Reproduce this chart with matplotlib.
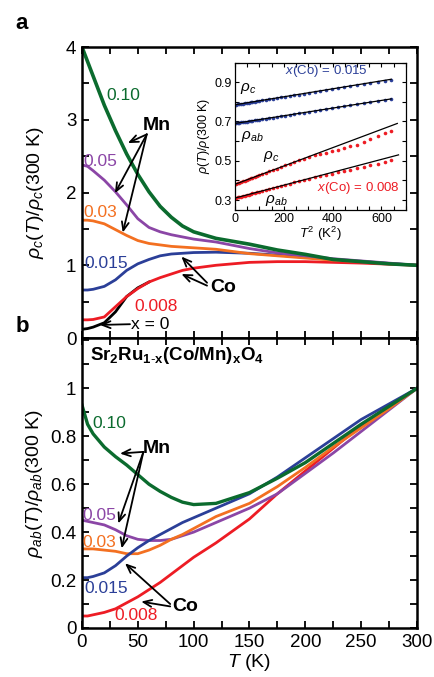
import matplotlib
matplotlib.use("Agg")
import matplotlib.pyplot as plt
from matplotlib.ticker import MultipleLocator, FixedLocator, FormatStrFormatter

plt.rcParams["font.family"] = ["Liberation Sans", "DejaVu Sans"]
plt.rcParams["mathtext.fontset"] = "custom"
plt.rcParams["mathtext.rm"] = "Liberation Sans"
plt.rcParams["mathtext.it"] = "Liberation Sans:italic"
plt.rcParams["mathtext.bf"] = "Liberation Sans:bold"

# ---- data: panel a, rho_c(T)/rho_c(300 K) ----
T = [0, 5, 10, 20, 30, 40, 50, 60, 70, 80, 90, 100, 120, 150, 175, 200, 225, 250, 275, 300]
rc_mn010 = [4.00, 3.80, 3.60, 3.20, 2.85, 2.53, 2.25, 2.01, 1.81, 1.66, 1.54, 1.46, 1.37, 1.29, 1.21, 1.15, 1.08, 1.05, 1.02, 1.00]
rc_mn005 = [2.38, 2.36, 2.30, 2.17, 2.01, 1.83, 1.64, 1.52, 1.46, 1.42, 1.39, 1.36, 1.32, 1.23, 1.17, 1.13, 1.09, 1.06, 1.03, 1.00]
rc_mn003 = [1.62, 1.62, 1.61, 1.57, 1.49, 1.41, 1.34, 1.30, 1.28, 1.26, 1.25, 1.24, 1.22, 1.16, 1.13, 1.10, 1.07, 1.05, 1.02, 1.00]
rc_co015 = [0.66, 0.66, 0.67, 0.71, 0.80, 0.93, 1.02, 1.08, 1.13, 1.155, 1.165, 1.175, 1.18, 1.165, 1.14, 1.11, 1.08, 1.05, 1.025, 1.00]
rc_co008 = [0.25, 0.25, 0.255, 0.29, 0.43, 0.57, 0.68, 0.77, 0.83, 0.88, 0.93, 0.96, 1.00, 1.04, 1.05, 1.05, 1.04, 1.03, 1.015, 1.00]
T_pure = [0, 5, 10, 20, 30, 40, 50, 60]
rc_pure = [0.12, 0.13, 0.15, 0.21, 0.36, 0.57, 0.69, 0.77]

# ---- data: panel b, rho_ab(T)/rho_ab(300 K) ----
rab_mn010 = [0.93, 0.85, 0.81, 0.755, 0.715, 0.68, 0.64, 0.60, 0.57, 0.545, 0.525, 0.515, 0.52, 0.565, 0.625, 0.69, 0.77, 0.85, 0.925, 1.00]
rab_mn005 = [0.45, 0.445, 0.44, 0.43, 0.41, 0.385, 0.37, 0.365, 0.365, 0.37, 0.385, 0.40, 0.44, 0.50, 0.56, 0.645, 0.73, 0.82, 0.91, 1.00]
rab_mn003 = [0.33, 0.33, 0.33, 0.325, 0.32, 0.31, 0.31, 0.325, 0.345, 0.37, 0.39, 0.415, 0.465, 0.52, 0.59, 0.67, 0.755, 0.835, 0.915, 1.00]
rab_co015 = [0.21, 0.21, 0.215, 0.23, 0.26, 0.30, 0.335, 0.365, 0.39, 0.415, 0.44, 0.46, 0.50, 0.56, 0.63, 0.71, 0.79, 0.87, 0.935, 1.00]
rab_co008 = [0.05, 0.05, 0.055, 0.065, 0.08, 0.105, 0.13, 0.16, 0.19, 0.225, 0.26, 0.295, 0.355, 0.455, 0.56, 0.655, 0.75, 0.845, 0.925, 1.00]

# ---- data: inset, low-T rho vs T^2 ----
T2 = [2, 6, 12, 18, 25, 32, 40, 48, 56, 64, 72, 81, 90, 100, 112, 126, 140, 155, 171, 188,
      205, 224, 243, 262, 283, 304, 326, 349, 372, 396, 421, 446, 472, 499, 527, 555, 584, 613, 640]
in_c_015 = [0.785, 0.786, 0.787, 0.789, 0.790, 0.791, 0.793, 0.795, 0.796, 0.798, 0.799, 0.801, 0.803, 0.805,
            0.807, 0.810, 0.813, 0.816, 0.819, 0.823, 0.826, 0.830, 0.834, 0.837, 0.842, 0.846, 0.850, 0.855,
            0.859, 0.864, 0.869, 0.874, 0.879, 0.885, 0.890, 0.896, 0.902, 0.908, 0.913]
in_ab_015 = [0.690, 0.691, 0.692, 0.694, 0.695, 0.696, 0.698, 0.699, 0.701, 0.702, 0.704, 0.706, 0.708, 0.710,
             0.712, 0.715, 0.717, 0.720, 0.723, 0.727, 0.730, 0.734, 0.737, 0.741, 0.745, 0.749, 0.754, 0.758,
             0.763, 0.767, 0.772, 0.777, 0.782, 0.787, 0.793, 0.798, 0.804, 0.810, 0.815]
in_c_008 = [0.381, 0.383, 0.386, 0.388, 0.392, 0.395, 0.399, 0.403, 0.406, 0.410, 0.414, 0.418, 0.422, 0.427,
            0.433, 0.439, 0.446, 0.453, 0.460, 0.468, 0.476, 0.485, 0.494, 0.502, 0.511, 0.519, 0.527, 0.535,
            0.542, 0.549, 0.557, 0.565, 0.573, 0.582, 0.596, 0.610, 0.628, 0.640, 0.650]
in_ab_008 = [0.311, 0.312, 0.314, 0.316, 0.318, 0.320, 0.323, 0.326, 0.328, 0.331, 0.334, 0.337, 0.340, 0.343,
             0.347, 0.351, 0.356, 0.361, 0.366, 0.372, 0.377, 0.383, 0.390, 0.396, 0.402, 0.409, 0.415, 0.422,
             0.428, 0.435, 0.442, 0.448, 0.455, 0.462, 0.470, 0.477, 0.486, 0.495, 0.505]
# fitted T^2 lines (end points)
fit_c_015 = ([0, 640], [0.785, 0.915])
fit_ab_015 = ([0, 640], [0.690, 0.815])
fit_c_008 = ([0, 665], [0.380, 0.690])
fit_ab_008 = ([0, 670], [0.310, 0.530])

GREEN = "#0b6b2e"
PURPLE = "#8b46a6"
ORANGE = "#f37021"
BLUE = "#2b3f98"
RED = "#ed1c24"


def style_axis(ax, ymaj, ymin):
    ax.set_xlim(0, 300)
    ax.xaxis.set_major_locator(MultipleLocator(50))
    ax.xaxis.set_minor_locator(MultipleLocator(25))
    ax.yaxis.set_major_locator(ymaj)
    ax.yaxis.set_minor_locator(MultipleLocator(ymin))
    ax.tick_params(which="both", direction="in", top=True, right=True,
                   length=5, width=1.3, labelsize=13.5, pad=4)
    for sp in ax.spines.values():
        sp.set_linewidth(1.8)


def arrow(ax, head, tail):
    ax.annotate("", xy=head, xytext=tail,
                arrowprops=dict(arrowstyle="->,head_length=0.6,head_width=0.25",
                                color="black", lw=1.3, shrinkA=0, shrinkB=0))


fig = plt.figure(figsize=(4.35, 6.77), dpi=100)
ax1 = fig.add_axes([0.1885, 0.5007, 0.770, 0.4298])
ax2 = fig.add_axes([0.1885, 0.0724, 0.770, 0.4283])

# ---------------- panel a ----------------
ax1.plot(T_pure, rc_pure, color="black", lw=2)
ax1.plot(T, rc_co008, color=RED, lw=2)
ax1.plot(T, rc_co015, color=BLUE, lw=2)
ax1.plot(T, rc_mn003, color=ORANGE, lw=2)
ax1.plot(T, rc_mn005, color=PURPLE, lw=2)
ax1.plot(T, rc_mn010, color=GREEN, lw=2.6)
style_axis(ax1, MultipleLocator(1), 0.5)
ax1.set_ylim(0, 4)
ax1.tick_params(labelbottom=False)
ax1.yaxis.set_major_formatter(FormatStrFormatter("%g"))
ax1.set_ylabel(r"$\rho_c$($T$)/$\rho_c$(300 K)", fontsize=14, labelpad=14)

fs = 12.5
ax1.text(22, 3.34, "0.10", color=GREEN, fontsize=fs, va="center")
ax1.text(1.5, 2.42, "0.05", color=PURPLE, fontsize=fs, va="center")
ax1.text(1.5, 1.73, "0.03", color=ORANGE, fontsize=fs, va="center")
ax1.text(2.5, 1.03, "0.015", color=BLUE, fontsize=fs, va="center")
ax1.text(47, 0.43, "0.008", color=RED, fontsize=fs, va="center")
ax1.text(44, 0.19, "x = 0", color="black", fontsize=fs, va="center")
arrow(ax1, (16, 0.18), (43, 0.19))
ax1.text(54, 2.92, "Mn", fontsize=14, fontweight="bold", va="center")
for head in [(41, 2.68), (29.5, 1.99), (36.5, 1.45)]:
    arrow(ax1, head, (58, 2.80))
ax1.text(115, 0.69, "Co", fontsize=14, fontweight="bold", va="center")
arrow(ax1, (89, 1.12), (112, 0.76))
arrow(ax1, (89, 0.88), (112, 0.72))
fig.text(0.035, 0.965, "a", fontsize=16, fontweight="bold", va="center")

# ---------------- panel b ----------------
ax2.plot(T, rab_co008, color=RED, lw=2)
ax2.plot(T, rab_mn005, color=PURPLE, lw=2)
ax2.plot(T, rab_mn003, color=ORANGE, lw=2)
ax2.plot(T, rab_co015, color=BLUE, lw=2)
ax2.plot(T, rab_mn010, color=GREEN, lw=2.4)
style_axis(ax2, FixedLocator([0, 0.2, 0.4, 0.6, 0.8, 1.0]), 0.1)
ax2.set_ylim(0, 1.21)
ax2.yaxis.set_major_formatter(FormatStrFormatter("%g"))
ax2.set_ylabel(r"$\rho_{ab}$($T$)/$\rho_{ab}$(300 K)", fontsize=14, labelpad=4)
ax2.set_xlabel(r"$T$ (K)", fontsize=14, labelpad=1)

ax2.text(7, 1.135, r"$\mathbf{Sr_2Ru_{1\text{-}x}(Co/Mn)_xO_4}$", fontsize=13.5, va="center")
ax2.text(9, 0.853, "0.10", color=GREEN, fontsize=fs, va="center")
ax2.text(0.5, 0.47, "0.05", color=PURPLE, fontsize=fs, va="center")
ax2.text(0.5, 0.357, "0.03", color=ORANGE, fontsize=fs, va="center")
ax2.text(2.5, 0.165, "0.015", color=BLUE, fontsize=fs, va="center")
ax2.text(29, 0.054, "0.008", color=RED, fontsize=fs, va="center")
ax2.text(54, 0.75, "Mn", fontsize=14, fontweight="bold", va="center")
for head in [(34, 0.728), (32.5, 0.436), (35.5, 0.332)]:
    arrow(ax2, head, (55, 0.735))
ax2.text(81, 0.09, "Co", fontsize=14, fontweight="bold", va="center")
arrow(ax2, (38.5, 0.27), (79, 0.10))
arrow(ax2, (53, 0.11), (79, 0.09))
fig.text(0.035, 0.517, "b", fontsize=16, fontweight="bold", va="center")

# ---------------- inset ----------------
ax3 = fig.add_axes([0.540, 0.690, 0.393, 0.2176])
for xs, ys in [fit_c_015, fit_ab_015, fit_c_008, fit_ab_008]:
    ax3.plot(xs, ys, color="black", lw=0.9, zorder=3)
ax3.plot(T2, in_c_015, "o", color=BLUE, ms=2.6, mew=0)
ax3.plot(T2, in_ab_015, "o", color=BLUE, ms=2.6, mew=0)
ax3.plot(T2, in_c_008, "o", color=RED, ms=2.6, mew=0)
ax3.plot(T2, in_ab_008, "o", color=RED, ms=2.6, mew=0)
ax3.set_xlim(0, 700)
ax3.set_ylim(0.25, 1.0)
ax3.xaxis.set_major_locator(MultipleLocator(200))
ax3.xaxis.set_minor_locator(MultipleLocator(50))
ax3.yaxis.set_major_locator(FixedLocator([0.3, 0.5, 0.7, 0.9]))
ax3.yaxis.set_minor_locator(MultipleLocator(0.1))
ax3.yaxis.set_major_formatter(FormatStrFormatter("%.1f"))
ax3.tick_params(which="both", direction="in", top=True, right=True,
                length=3, width=0.8, labelsize=9, pad=2)
for sp in ax3.spines.values():
    sp.set_linewidth(0.9)
ax3.set_xlabel(r"$T^2$ (K$^2$)", fontsize=9.5, labelpad=0)
ax3.set_ylabel(r"$\rho$($T$)/$\rho$(300 K)", fontsize=9, labelpad=2)
ax3.text(22, 0.87, r"$\rho_c$", fontsize=11, va="center")
ax3.text(25, 0.625, r"$\rho_{ab}$", fontsize=11, va="center")
ax3.text(115, 0.52, r"$\rho_c$", fontsize=11, va="center")
ax3.text(125, 0.30, r"$\rho_{ab}$", fontsize=11, va="center")
ax3.text(205, 0.955, r"$x$(Co) = 0.015", color=BLUE, fontsize=9.5, va="center")
ax3.text(335, 0.36, r"$x$(Co) = 0.008", color=RED, fontsize=9.5, va="center")

fig.savefig("out.png", dpi=100)
